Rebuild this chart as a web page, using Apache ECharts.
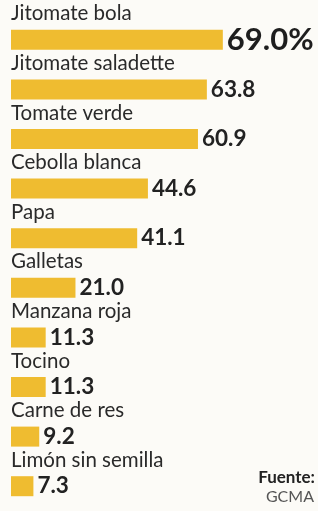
<!DOCTYPE html>
<html><head><meta charset="utf-8">
<script src="https://cdn.jsdelivr.net/npm/echarts@6/dist/echarts.min.js"></script>
<style>html,body{margin:0;padding:0;background:#fcfbf7;}#c{width:318px;height:511px;}</style>
</head><body><div id="c"></div>
<script>
const categories = ["Jitomate bola","Jitomate saladette","Tomate verde","Cebolla blanca","Papa","Galletas","Manzana roja","Tocino","Carne de res","Limón sin semilla"];
const values = [69.0, 63.8, 60.9, 44.6, 41.1, 21.0, 11.3, 11.3, 9.2, 7.3];
const sourceLabel = "Fuente:";
const sourceName = "GCMA";

const chart = echarts.init(document.getElementById('c'));
chart.setOption({
  backgroundColor: '#fcfbf7',
  animation: false,
  grid: {left: 11, top: 15, width: 309, height: 502, containLabel: false},
  xAxis: {type: 'value', min: 0, max: 100, show: false},
  yAxis: {type: 'category', data: categories, inverse: true, show: false},
  series: [
    {
      type: 'bar', data: values, barWidth: 20,
      itemStyle: {color: '#efbc30'},
      label: {
        show: true, position: 'right', distance: 4,
        fontFamily: 'Lato', fontWeight: 'bold', color: '#222',
        formatter: p => p.dataIndex === 0 ? '{big|' + p.value.toFixed(1) + '%}' : '{n|' + p.value.toFixed(1) + '}',
        rich: {
          big: {fontFamily: 'Lato', fontWeight: 'bold', fontSize: 31, color: '#1e1e1e'},
          n: {fontFamily: 'Lato', fontWeight: 'bold', fontSize: 22.5, color: '#222'}
        }
      },
      z: 3
    },
    {
      type: 'bar', data: values, barWidth: 20, barGap: '-100%',
      itemStyle: {color: 'rgba(0,0,0,0)'},
      label: {
        show: true, position: [0, -16], formatter: '{b}', align: 'left', verticalAlign: 'middle',
        fontFamily: 'Lato', fontSize: 20.5, color: '#2a2a2a'
      },
      silent: true, z: 2
    }
  ],
  graphic: [
    {type: 'text', right: 3, top: 469, style: {text: sourceLabel, font: 'bold 17px Lato', fill: '#222', textAlign: 'right'}},
    {type: 'text', right: 4, top: 489, style: {text: sourceName, font: '16px Lato', fill: '#555', textAlign: 'right'}}
  ]
});
</script></body></html>
